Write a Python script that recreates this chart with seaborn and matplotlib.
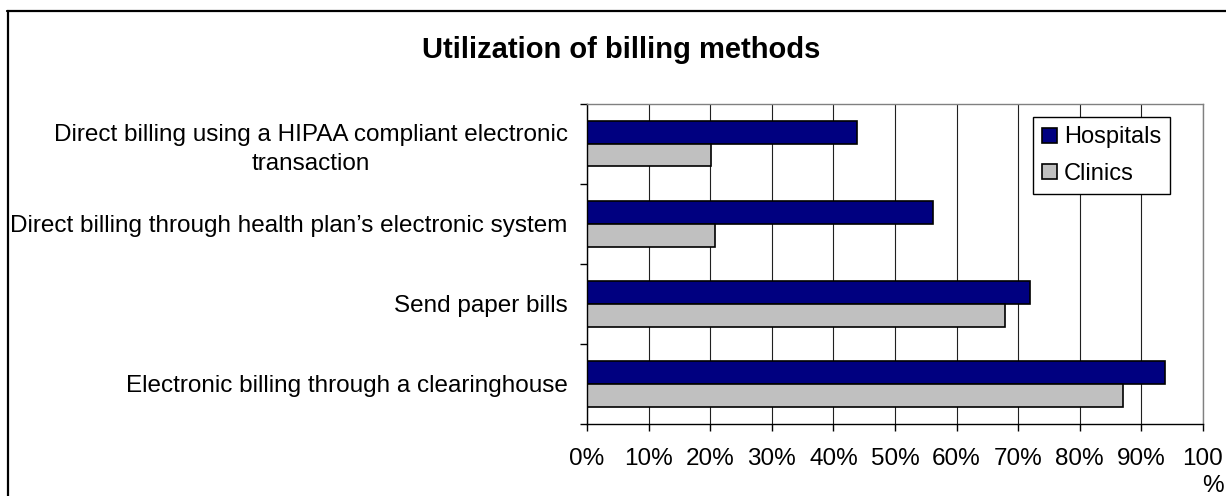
"""
Utilization of billing methods - horizontal grouped bar chart (hospitals vs clinics).
"""

import pandas as pd
import matplotlib
matplotlib.use("Agg")
import matplotlib.pyplot as plt
from matplotlib.lines import Line2D
from matplotlib.patches import Patch
import seaborn as sns

methods = [
    "Direct billing using a HIPAA compliant electronic\ntransaction",
    "Direct billing through health plan\u2019s electronic system",
    "Send paper bills",
    "Electronic billing through a clearinghouse",
]
hospitals = [43.8, 56.2, 72.0, 93.8]
clinics = [20.2, 20.8, 67.8, 87.1]
groups = ["Hospitals", "Clinics"]
x_ticks = [0, 10, 20, 30, 40, 50, 60, 70, 80, 90, 100]
x_labels = ["0%", "10%", "20%", "30%", "40%", "50%", "60%", "70%", "80%", "90%", "100\n%"]

df = pd.DataFrame({
    "Method": methods * 2,
    "Percent": hospitals + clinics,
    "Group": [groups[0]] * len(methods) + [groups[1]] * len(methods),
})

sns.set_style("white")
plt.rcParams["font.family"] = ["Liberation Sans", "DejaVu Sans"]
plt.rcParams["text.color"] = "black"
plt.rcParams["xtick.labelcolor"] = "black"
plt.rcParams["ytick.labelcolor"] = "black"

palette = {"Hospitals": "#000080", "Clinics": "#C0C0C0"}

fig = plt.figure(figsize=(12.26, 4.96), dpi=100)
ax = fig.add_axes([0.4788, 0.1452, 0.5024, 0.6461])

sns.barplot(data=df, y="Method", x="Percent", hue="Group", order=methods,
            hue_order=groups, palette=palette, orient="h", width=0.57,
            edgecolor="black", linewidth=1.2, saturation=1, ax=ax)

ax.set_xlim(0, 100)
ax.set_ylim(3.5, -0.5)
ax.set_xlabel("")
ax.set_ylabel("")

# gridlines and plot-area border like the old spreadsheet look
ax.set_axisbelow(True)
ax.xaxis.grid(True, color="#202020", lw=0.8)
ax.yaxis.grid(False)
for side in ["top", "right"]:
    ax.spines[side].set_color("#808080")
    ax.spines[side].set_linewidth(1)
for side in ["left", "bottom"]:
    ax.spines[side].set_color("black")
    ax.spines[side].set_linewidth(1)

ax.set_xticks(x_ticks)
ax.set_xticklabels(x_labels, fontsize=17.5)
for lab in ax.get_xticklabels():
    lab.set_multialignment("right")
    lab.set_linespacing(1.3)
ax.tick_params(axis="x", direction="out", length=5, width=1, color="black", pad=12, bottom=True)

ax.set_yticks(range(len(methods)))
ax.set_yticklabels(methods, fontsize=17.5)
for lab in ax.get_yticklabels():
    lab.set_multialignment("center")
    lab.set_linespacing(1.4)
ax.tick_params(axis="y", which="major", length=0, pad=14)
ax.set_yticks([-0.5, 0.5, 1.5, 2.5, 3.5], minor=True)
ax.tick_params(axis="y", which="minor", direction="out", length=5, width=1, color="black", left=True)

handles = [Patch(facecolor=palette[g], edgecolor="black", lw=1.2) for g in groups]
leg = ax.legend(handles, groups, loc="upper left", bbox_to_anchor=(0.8426, 0.7641),
                bbox_transform=fig.transFigure, borderaxespad=0, fontsize=17,
                frameon=True, fancybox=False, edgecolor="black", framealpha=1,
                handlelength=0.6, handleheight=0.6, handletextpad=0.3,
                labelspacing=0.6, borderpad=0.4)
leg.get_frame().set_linewidth(1)

fig.text(0.5065, 1 - 50 / 496, "Utilization of billing methods", ha="center", va="center",
         fontsize=21, fontweight="bold")

# outer chart border (runs off the right and bottom of the image)
fig.add_artist(Line2D([7.5 / 1226, 7.5 / 1226], [0, 1 - 11 / 496], color="black", lw=1.6,
                      transform=fig.transFigure))
fig.add_artist(Line2D([6.5 / 1226, 1], [1 - 11 / 496, 1 - 11 / 496], color="black", lw=1.6,
                      transform=fig.transFigure))

fig.savefig("out.png", dpi=100, facecolor="white")
